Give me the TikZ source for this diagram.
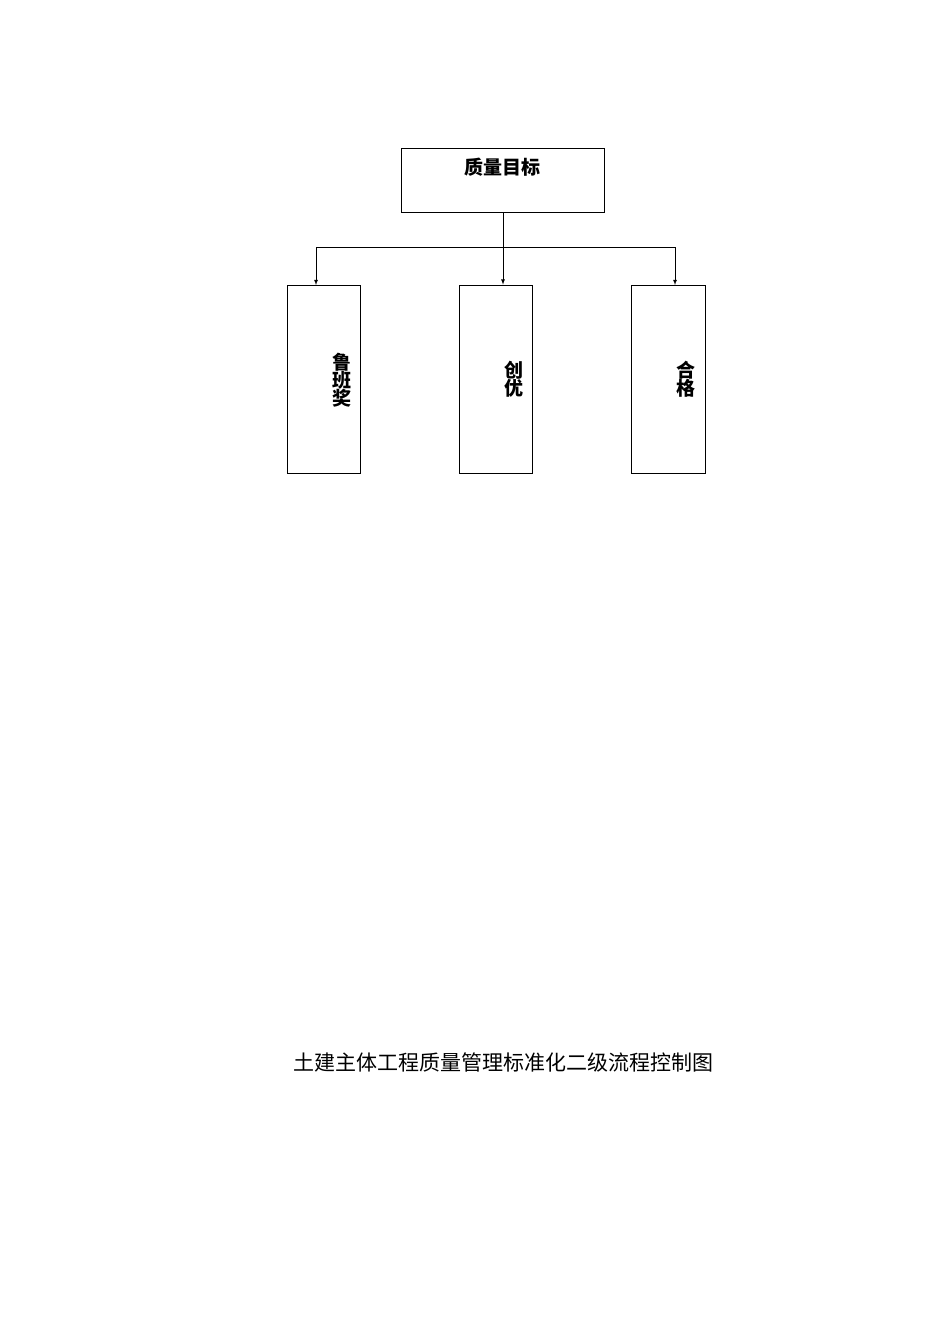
\documentclass[tikz,border=0pt]{standalone}
\usepackage{fontspec}
\newfontfamily\cjk{Noto Sans CJK SC}
\newfontfamily\cjkb{Noto Sans CJK SC Bold}
\begin{document}
\begin{tikzpicture}[x=1pt,y=-1pt,
  box/.style={draw,line width=0.8pt,inner sep=0},
  lbl/.style={font=\cjk\bfseries\fontsize{19}{22}\selectfont,align=center},
  arr/.style={-latex,line width=0.8pt}]
\useasboundingbox (0,0) rectangle (950,1344);
\node[box,minimum width=203,minimum height=64] (top) at (502.5,180) {};
\node[lbl] (t) at (502.5,167) {质量目标};
\node[box,minimum width=73,minimum height=188] (a) at (323.5,379) {};
\node[box,minimum width=73,minimum height=188] (b) at (495.5,379) {};
\node[box,minimum width=74,minimum height=188] (c) at (668,379) {};
\node[lbl] at (342,380) {鲁\\[-4pt]班\\[-4pt]奖};
\node[lbl] at (514,379) {创\\[-4pt]优};
\node[lbl] at (686,379) {合\\[-4pt]格};
\coordinate (m) at (503,247);
\draw[arr] (top.south -| m) -- (m |- b.north);
\draw[arr] (m) -| (316,285);
\draw[arr] (m) -| (675,285);
\node[font=\cjk\fontsize{21}{24}\selectfont] (cap) at (503,1062) {土建主体工程质量管理标准化二级流程控制图};
\end{tikzpicture}
\end{document}
